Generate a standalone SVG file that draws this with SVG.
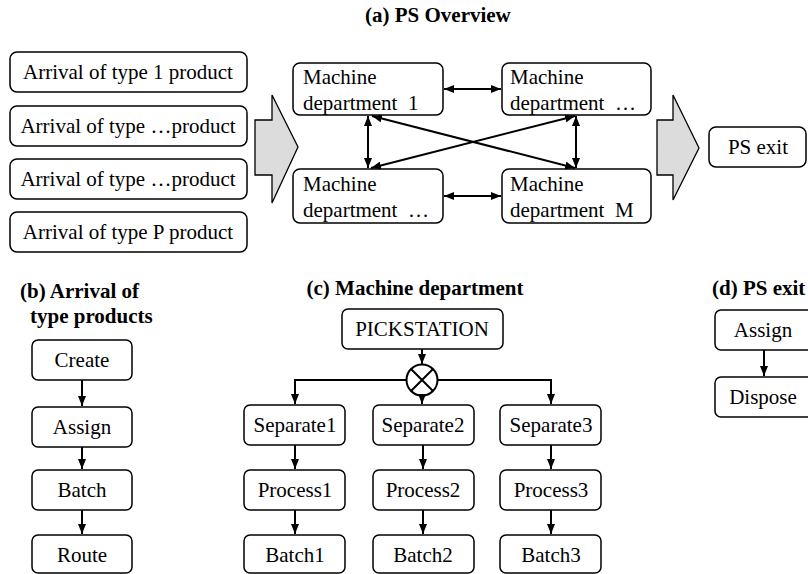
<svg xmlns="http://www.w3.org/2000/svg" width="808" height="574" viewBox="0 0 808 574">
  <style>
    .box { fill: #fff; stroke: #000; stroke-width: 1.5; }
    .t { font-size: 21px; fill: #000; }
    .c { text-anchor: middle; }
    .h { font-size: 21px; font-weight: bold; fill: #000; }
    .ln { stroke: #000; stroke-width: 2; fill: none; }
    .big { fill: #dcdcdc; stroke: #000; stroke-width: 1.3; }
  </style>
  <defs>
    <marker id="ah" viewBox="0 0 10 8" refX="10" refY="4" markerWidth="5" markerHeight="4" orient="auto-start-reverse" markerUnits="strokeWidth">
      <path d="M0,0 L10,4 L0,8 z" fill="#000"/>
    </marker>
  </defs>

  <rect width="808" height="574" fill="#fff"/>

  <g font-family="'Liberation Serif', 'DejaVu Serif', serif">
  <!-- (a) overview -->
  <text class="h" x="365" y="22">(a) PS Overview</text>

  <g id="arrival1"><rect class="box" x="10" y="52" width="237" height="40" rx="7"/><text class="t c" x="128" y="79">Arrival of type 1 product</text></g>
  <g id="arrival2"><rect class="box" x="10" y="106" width="237" height="40" rx="7"/><text class="t c" x="128" y="133">Arrival of type …product</text></g>
  <g id="arrival3"><rect class="box" x="10" y="159" width="237" height="40" rx="7"/><text class="t c" x="128" y="186">Arrival of type …product</text></g>
  <g id="arrival4"><rect class="box" x="10" y="212" width="237" height="40" rx="7"/><text class="t c" x="128" y="239">Arrival of type P product</text></g>

  <g id="flow-in"><path class="big" d="M255,120 L272,120 L272,95 L298,147 L272,203 L272,175 L255,175 z"/></g>

  <g id="md1"><rect class="box" x="293" y="63" width="150" height="52" rx="7"/><text class="t" x="303" y="84">Machine</text><text class="t" x="303" y="110" xml:space="preserve">department  1</text></g>
  <g id="md2"><rect class="box" x="502" y="63" width="149" height="52" rx="7"/><text class="t" x="510" y="84">Machine</text><text class="t" x="510" y="110" xml:space="preserve">department  …</text></g>
  <g id="md3"><rect class="box" x="293" y="169" width="150" height="54" rx="7"/><text class="t" x="303" y="191">Machine</text><text class="t" x="303" y="217" xml:space="preserve">department  …</text></g>
  <g id="md4"><rect class="box" x="502" y="169" width="149" height="54" rx="7"/><text class="t" x="510" y="191">Machine</text><text class="t" x="510" y="217" xml:space="preserve">department  M</text></g>

  <g id="flow-out"><path class="big" d="M657,120 L673,120 L673,95 L699,148 L673,200 L673,175 L657,175 z"/></g>

  <g id="psexit"><rect class="box" x="709" y="127" width="97" height="40" rx="7"/><text class="t c" x="758" y="154">PS exit</text></g>

  <!-- (b) -->
  <text class="h" x="20" y="298">(b) Arrival of</text>
  <text class="h" x="30" y="323">type products</text>
  <g id="b-create"><rect class="box" x="32" y="340" width="100" height="40" rx="6"/><text class="t c" x="82" y="367">Create</text></g>
  <g id="b-assign"><rect class="box" x="32" y="407" width="100" height="40" rx="6"/><text class="t c" x="82" y="434">Assign</text></g>
  <g id="b-batch"><rect class="box" x="32" y="470" width="100" height="40" rx="6"/><text class="t c" x="82" y="497">Batch</text></g>
  <g id="b-route"><rect class="box" x="32" y="535" width="100" height="38" rx="6"/><text class="t c" x="82" y="562">Route</text></g>

  <!-- (c) -->
  <text class="h c" x="415" y="295">(c) Machine department</text>
  <g id="c-pick"><rect class="box" x="342" y="309" width="161" height="40" rx="6"/><text class="t c" x="422" y="336">PICKSTATION</text></g>
  <g id="c-xor"><circle cx="422" cy="380" r="15.5" fill="#fff" stroke="#000" stroke-width="2"/><path class="ln" d="M411,369 L433,391 M433,369 L411,391"/></g>
  <g id="c-sep1"><rect class="box" x="244" y="405" width="101" height="40" rx="6"/><text class="t c" x="295" y="432">Separate1</text></g>
  <g id="c-sep2"><rect class="box" x="373" y="405" width="101" height="40" rx="6"/><text class="t c" x="423" y="432">Separate2</text></g>
  <g id="c-sep3"><rect class="box" x="500" y="405" width="101" height="40" rx="6"/><text class="t c" x="551" y="432">Separate3</text></g>
  <g id="c-proc1"><rect class="box" x="244" y="470" width="101" height="40" rx="6"/><text class="t c" x="295" y="497">Process1</text></g>
  <g id="c-proc2"><rect class="box" x="373" y="470" width="101" height="40" rx="6"/><text class="t c" x="423" y="497">Process2</text></g>
  <g id="c-proc3"><rect class="box" x="500" y="470" width="101" height="40" rx="6"/><text class="t c" x="551" y="497">Process3</text></g>
  <g id="c-batch1"><rect class="box" x="244" y="535" width="101" height="38" rx="6"/><text class="t c" x="295" y="562">Batch1</text></g>
  <g id="c-batch2"><rect class="box" x="373" y="535" width="101" height="38" rx="6"/><text class="t c" x="423" y="562">Batch2</text></g>
  <g id="c-batch3"><rect class="box" x="500" y="535" width="101" height="38" rx="6"/><text class="t c" x="551" y="562">Batch3</text></g>

  <!-- (d) -->
  <text class="h" x="712" y="295">(d) PS exit</text>
  <g id="d-assign"><rect class="box" x="715" y="310" width="98" height="40" rx="6"/><text class="t c" x="763" y="337">Assign</text></g>
  <g id="d-dispose"><rect class="box" x="715" y="377" width="98" height="40" rx="6"/><text class="t c" x="763" y="404">Dispose</text></g>
  </g>

  <!-- connectors -->
  <g id="connectors">
    <!-- overview links between departments -->
    <line class="ln" x1="444" y1="89" x2="501" y2="89" marker-start="url(#ah)" marker-end="url(#ah)"/>
    <line class="ln" x1="444" y1="196" x2="501" y2="196" marker-start="url(#ah)" marker-end="url(#ah)"/>
    <line class="ln" x1="368" y1="116" x2="368" y2="168" marker-start="url(#ah)" marker-end="url(#ah)"/>
    <line class="ln" x1="576" y1="116" x2="576" y2="168" marker-start="url(#ah)" marker-end="url(#ah)"/>
    <line class="ln" x1="372" y1="116" x2="575" y2="168" marker-start="url(#ah)" marker-end="url(#ah)"/>
    <line class="ln" x1="575" y1="116" x2="371" y2="168" marker-start="url(#ah)" marker-end="url(#ah)"/>

    <!-- (b) chain -->
    <line class="ln" x1="82" y1="380" x2="82" y2="406" marker-end="url(#ah)"/>
    <line class="ln" x1="82" y1="447" x2="82" y2="469" marker-end="url(#ah)"/>
    <line class="ln" x1="82" y1="510" x2="82" y2="534" marker-end="url(#ah)"/>

    <!-- (c) branching -->
    <line class="ln" x1="422" y1="349" x2="422" y2="364" marker-end="url(#ah)"/>
    <path class="ln" d="M406.5,380 L295,380 L295,404" marker-end="url(#ah)"/>
    <path class="ln" d="M437.5,380 L551,380 L551,404" marker-end="url(#ah)"/>
    <line class="ln" x1="422" y1="395.5" x2="422" y2="404" marker-end="url(#ah)"/>
    <line class="ln" x1="295" y1="445" x2="295" y2="469" marker-end="url(#ah)"/>
    <line class="ln" x1="423" y1="445" x2="423" y2="469" marker-end="url(#ah)"/>
    <line class="ln" x1="551" y1="445" x2="551" y2="469" marker-end="url(#ah)"/>
    <line class="ln" x1="295" y1="510" x2="295" y2="534" marker-end="url(#ah)"/>
    <line class="ln" x1="423" y1="510" x2="423" y2="534" marker-end="url(#ah)"/>
    <line class="ln" x1="551" y1="510" x2="551" y2="534" marker-end="url(#ah)"/>

    <!-- (d) chain -->
    <line class="ln" x1="764" y1="350" x2="764" y2="376" marker-end="url(#ah)"/>
  </g>
</svg>
